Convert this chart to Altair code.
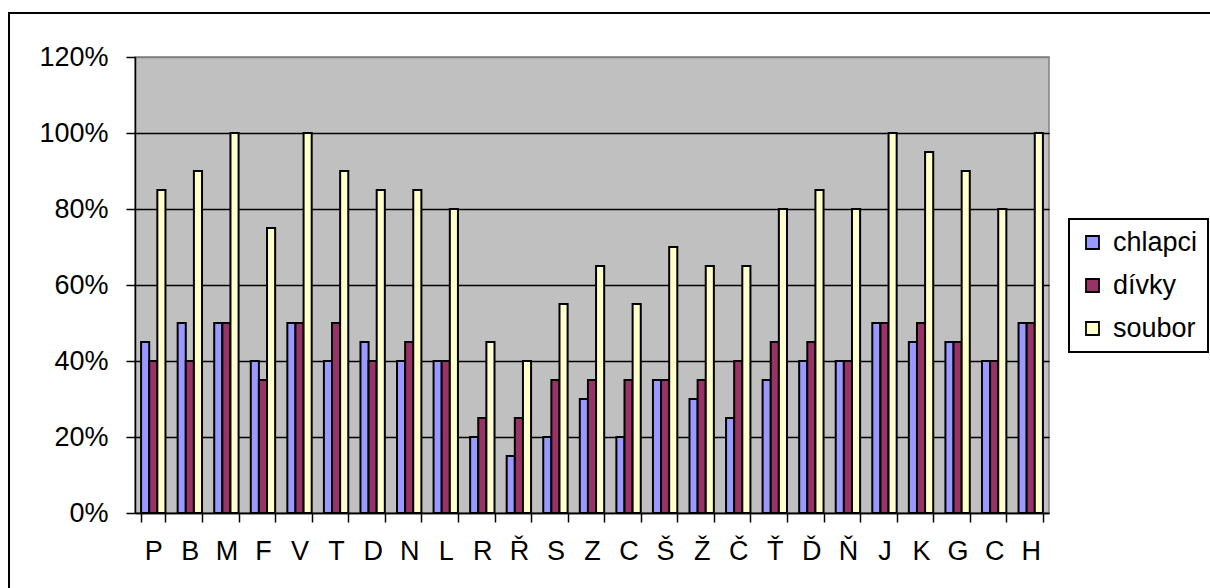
import json
import altair as alt
import pandas as pd

# Categories (letters) and per-series shares in percent
letters = ["P", "B", "M", "F", "V", "T", "D", "N", "L", "R", "Ř", "S", "Z",
           "C", "Š", "Ž", "Č", "Ť", "Ď", "Ň", "J", "K", "G", "C", "H"]
chlapci = [45, 50, 50, 40, 50, 40, 45, 40, 40, 20, 15, 20, 30,
           20, 35, 30, 25, 35, 40, 40, 50, 45, 45, 40, 50]
divky = [40, 40, 50, 35, 50, 50, 40, 45, 40, 25, 25, 35, 35,
         35, 35, 35, 40, 45, 45, 40, 50, 50, 45, 40, 50]
soubor = [85, 90, 100, 75, 100, 90, 85, 85, 80, 45, 40, 55, 65,
          55, 70, 65, 65, 80, 85, 80, 100, 95, 90, 80, 100]

series = ["chlapci", "dívky", "soubor"]
colors = ["#9999FF", "#993366", "#FFFFCC"]
y_ticks = [0, 0.2, 0.4, 0.6, 0.8, 1.0, 1.2]

rows = []
for i in range(len(letters)):
    for name, vals in zip(series, [chlapci, divky, soubor]):
        rows.append({"pos": i, "serie": name, "value": vals[i] / 100})
df = pd.DataFrame(rows)

FONT = "Arial, Liberation Sans, sans-serif"
FS = 27
label_expr = json.dumps(letters, ensure_ascii=False) + "[datum.value]"

bars = alt.Chart(df).mark_bar(stroke="black", strokeWidth=2).encode(
    x=alt.X(
        "pos:O",
        scale=alt.Scale(paddingInner=1 / 3, paddingOuter=1 / 6),
        axis=alt.Axis(
            title=None, labelExpr=label_expr, labelAngle=0, tickBand="extent",
            tickSize=9, tickWidth=1.5, tickColor="black",
            domainColor="black", domainWidth=1.5,
            labelPadding=16, labelFontSize=FS, labelFont=FONT, labelColor="black",
            grid=False,
        ),
    ),
    xOffset=alt.XOffset("serie:N", sort=series,
                        scale=alt.Scale(paddingInner=0, paddingOuter=0)),
    y=alt.Y(
        "value:Q",
        scale=alt.Scale(domain=[0, 1.2], nice=False),
        axis=alt.Axis(
            title=None, values=y_ticks, format=".0%",
            tickSize=9, tickWidth=1.5, tickColor="black",
            domainColor="black", domainWidth=1.5,
            labelPadding=18, labelFontSize=FS, labelFont=FONT, labelColor="black",
            grid=True, gridWidth=1.6,
            gridColor={"condition": {"test": "datum.value >= 1.19", "value": "#808080"},
                       "value": "black"},
        ),
    ),
    color=alt.Color(
        "serie:N", sort=series,
        scale=alt.Scale(domain=series, range=colors),
        legend=alt.Legend(
            title=None, orient="none", legendX=934, legendY=162,
            symbolType="square", symbolSize=169, symbolStrokeColor="black",
            symbolStrokeWidth=1.8, symbolOpacity=1,
            labelFont=FONT, labelFontSize=FS, labelColor="black", labelOffset=7,
            rowPadding=15, padding=10,
            strokeColor="black", fillColor="white",
        ),
    ),
)

# Outer chart frame
frame = alt.Chart(alt.Data(values=[{}])).mark_rect(
    filled=False, stroke="black", strokeWidth=2
).encode(
    x=alt.value(-126), x2=alt.value(1100),
    y=alt.value(-44), y2=alt.value(560),
)

chart = alt.layer(bars, frame).properties(
    width=914, height=456,
    autosize=alt.AutoSizeParams(type="none"),
    padding={"left": 135, "top": 57, "right": 161, "bottom": 75},
    background="white",
).configure_view(
    fill="#C0C0C0", stroke="#808080", strokeWidth=1.5,
).configure_legend(
    strokeWidth=2,
)

chart.save("out.html", embed_options={"renderer": "svg", "actions": False})
